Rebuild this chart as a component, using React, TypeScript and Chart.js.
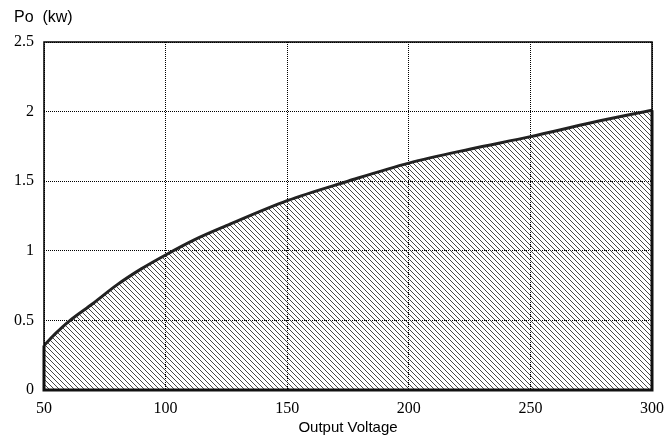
import React, { useEffect, useRef } from "react";
import { Chart, registerables } from "chart.js";

Chart.register(...registerables);

const VOLTAGE = [50, 55, 60, 70, 80, 90, 100, 112, 125, 150, 175, 200, 225, 250, 275, 300];
const POWER = [0.32, 0.41, 0.49, 0.62, 0.755, 0.87, 0.97, 1.08, 1.18, 1.36, 1.5, 1.63, 1.73, 1.82, 1.92, 2.01];
const X_MIN = 50;
const X_MAX = 300;
const X_STEP = 50;
const Y_MIN = 0;
const Y_MAX = 2.5;
const Y_STEP = 0.5;
const Y_TICK_LABELS = ["0", "0.5", "1", "1.5", "2", "2.5"];
const Y_TITLE = "Po  (kw)";
const X_TITLE = "Output Voltage";

function makeHatch(): CanvasPattern | string {
  const c = document.createElement("canvas");
  const s = 5;
  c.width = s;
  c.height = s;
  const g = c.getContext("2d");
  if (!g) return "#888";
  g.strokeStyle = "#333";
  g.lineWidth = 0.9;
  g.beginPath();
  g.moveTo(-1, -1);
  g.lineTo(s + 1, s + 1);
  g.moveTo(-1, s - 1);
  g.lineTo(1, s + 1);
  g.moveTo(s - 1, -1);
  g.lineTo(s + 1, 1);
  g.stroke();
  const p = g.createPattern(c, "repeat");
  return p || "#888";
}

const framePlugin = {
  id: "frameOutline",
  afterDatasetsDraw(chart: any) {
    const ctx = chart.ctx;
    const { left, top, right, bottom } = chart.chartArea;
    const xs = chart.scales.x;
    const ys = chart.scales.y;
    ctx.save();
    ctx.strokeStyle = "#000";
    ctx.lineWidth = 1.5;
    ctx.strokeRect(left, top, right - left, bottom - top);
    const n = VOLTAGE.length;
    const x0 = xs.getPixelForValue(VOLTAGE[0]);
    const xn = xs.getPixelForValue(VOLTAGE[n - 1]);
    const yb = ys.getPixelForValue(0);
    ctx.strokeStyle = "#111";
    ctx.lineWidth = 3;
    ctx.lineJoin = "miter";
    ctx.beginPath();
    ctx.moveTo(x0, ys.getPixelForValue(POWER[0]));
    ctx.lineTo(x0, yb);
    ctx.lineTo(xn, yb);
    ctx.lineTo(xn, ys.getPixelForValue(POWER[n - 1]));
    ctx.stroke();
    ctx.fillStyle = "#000";
    ctx.font = "16px 'Liberation Sans', Arial, sans-serif";
    ctx.textAlign = "left";
    ctx.textBaseline = "alphabetic";
    ctx.fillText(Y_TITLE, 14, 22);
    ctx.restore();
  },
};

export default function App() {
  const ref = useRef<HTMLCanvasElement | null>(null);
  useEffect(() => {
    if (!ref.current) return;
    const hatch = makeHatch();
    const chart = new Chart(ref.current, {
      type: "line",
      data: {
        datasets: [
          {
            data: VOLTAGE.map((v, i) => ({ x: v, y: POWER[i] })),
            borderColor: "#222",
            borderWidth: 3,
            backgroundColor: hatch as any,
            fill: "origin",
            pointRadius: 0,
            cubicInterpolationMode: "monotone",
          },
        ],
      },
      options: {
        animation: false,
        responsive: false,
        maintainAspectRatio: false,
        layout: { padding: { left: 0, right: 12, top: 42, bottom: 0 } },
        plugins: {
          legend: { display: false },
          tooltip: { enabled: false },
          title: { display: false },
        },
        scales: {
          x: {
            type: "linear",
            min: X_MIN,
            max: X_MAX,
            afterFit: (s: any) => {
              s.height = 49;
              s.paddingLeft = 0;
              s.paddingRight = 0;
            },
            ticks: {
              stepSize: X_STEP,
              color: "#000",
              padding: 9,
              maxRotation: 0,
              font: { family: "'Liberation Serif', 'Times New Roman', serif", size: 16 },
            },
            grid: {
              color: "#000",
              lineWidth: 1,
              drawTicks: false,
            },
            border: { display: false, dash: [1, 1] },
            title: {
              display: true,
              text: X_TITLE,
              color: "#000",
              font: { family: "'Liberation Sans', Arial, sans-serif", size: 15 },
              padding: { top: 0, bottom: 2 },
            },
          },
          y: {
            type: "linear",
            min: Y_MIN,
            max: Y_MAX,
            afterFit: (s: any) => {
              s.width = 44;
              s.paddingTop = 0;
              s.paddingBottom = 0;
            },
            ticks: {
              stepSize: Y_STEP,
              color: "#000",
              padding: 10,
              font: { family: "'Liberation Serif', 'Times New Roman', serif", size: 16 },
              callback: (_v: any, i: number) => Y_TICK_LABELS[i],
            },
            grid: {
              color: "#000",
              lineWidth: 1,
              drawTicks: false,
            },
            border: { display: false, dash: [1, 1] },
          },
        },
      },
      plugins: [framePlugin],
    });
    return () => chart.destroy();
  }, []);
  return (
    <div style={{ position: "absolute", left: 0, top: 0, width: 664, height: 439 }}>
      <canvas ref={ref} width={664} height={439} style={{ display: "block", width: 664, height: 439 }} />
    </div>
  );
}
